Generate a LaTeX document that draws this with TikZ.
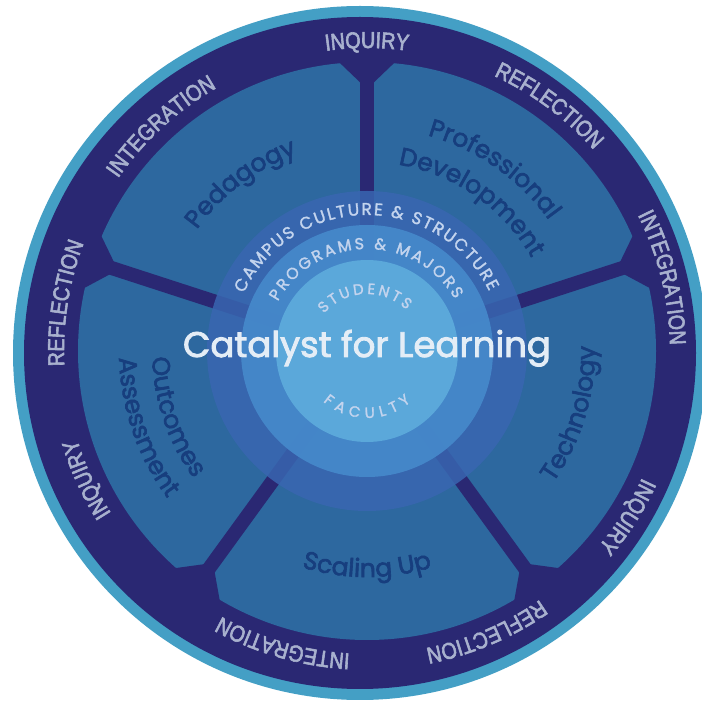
\documentclass[tikz,border=0pt]{standalone}
\usepackage{fontspec}
\usetikzlibrary{decorations.text}
\newfontfamily\wordfont[FakeStretch=0.86, FakeBold=2.5]{Liberation Sans}
\newfontfamily\labfont[FakeBold=2.5]{Poppins}
\newfontfamily\ringfont[FakeBold=1.6]{Poppins}
\definecolor{cLight}{HTML}{449FC5}
\definecolor{cNavy}{HTML}{2A2873}
\definecolor{cSeg}{HTML}{2D689F}
\definecolor{cCampus}{HTML}{3966B1}
\definecolor{cProg}{HTML}{4689CB}
\definecolor{cCenter}{HTML}{5BA8DA}
\definecolor{cWord}{HTML}{A8B1CE}
\definecolor{cLab}{HTML}{173E7E}
\definecolor{cInner}{HTML}{C3D4EE}
\definecolor{cTitle}{HTML}{E4EDF6}
\tikzset{
  outerword/.style={decorate, decoration={text along path, text align=center, text color=cWord,
      text={|\wordfont\fontsize{23}{23}\selectfont|#1}}},
  seglabel/.style={decorate, decoration={text along path, text align=center, text color=cLab,
      text={|\labfont\fontsize{25}{25}\selectfont|#1}}},
  ringtext/.style 2 args={decorate, decoration={text along path, text align=fit to path, text color=cInner,
      text={|\ringfont\fontsize{#1}{#1}\selectfont|#2}}},
  spoke/.style={cNavy, line width=14pt},
  titletext/.style={text=cTitle, font=\labfont\fontsize{35.5}{35.5}\selectfont, inner sep=0pt, anchor=base},
}
\begin{document}
\begin{tikzpicture}[x=1pt,y=1pt]
\useasboundingbox (0,0) rectangle (702,702);
\coordinate (O) at (360,349);
\coordinate (C) at (367,351);
% outer rings
\fill[cLight] (O) circle (347);
\fill[cNavy] (O) circle (336);
% segment field
\fill[cSeg] (C) circle (289);
% spokes with chamfered junctions
\foreach \a in {90,162,234,306,18} {
  \draw[spoke] (C) -- ([shift={(\a:280)}]C);
  \fill[cNavy] ([shift={(\a:262)}]C) -- ([shift={(\a+5.5:290)}]C) -- ([shift={(\a+5:305)}]C)
     -- ([shift={(\a-5:305)}]C) -- ([shift={(\a-5.5:290)}]C) -- cycle;
}
% inner rings
\fill[cCampus, opacity=0.85] (C) circle (160);
\fill[cProg, opacity=0.93] (C) circle (126);
\fill[cCenter] (C) circle (91);
% outer words (clockwise, tops outward)
\path[outerword=INQUIRY] ([shift={(115:303)}]C) arc[start angle=115, end angle=65, radius=303];
\path[outerword=REFLECTION] ([shift={(78.4:303)}]C) arc[start angle=78.4, end angle=28.4, radius=303];
\path[outerword=INTEGRATION] ([shift={(38.9:303)}]C) arc[start angle=38.9, end angle=-11.1, radius=303];
\path[outerword=INQUIRY] ([shift={(-7.5:303)}]C) arc[start angle=-7.5, end angle=-57.5, radius=303];
\path[outerword=REFLECTION] ([shift={(-42:303)}]C) arc[start angle=-42, end angle=-92, radius=303];
\path[outerword=INTEGRATION] ([shift={(279:303)}]C) arc[start angle=279, end angle=229, radius=303];
\path[outerword=INQUIRY] ([shift={(229.6:303)}]C) arc[start angle=229.6, end angle=179.6, radius=303];
\path[outerword=REFLECTION] ([shift={(196:303)}]C) arc[start angle=196, end angle=146, radius=303];
\path[outerword=INTEGRATION] ([shift={(157.5:303)}]C) arc[start angle=157.5, end angle=107.5, radius=303];
% segment labels
\path[seglabel=Pedagogy] ([shift={(157:209)}]C) arc[start angle=157, end angle=97, radius=209];
\path[seglabel=Professional] ([shift={(85:224)}]C) arc[start angle=85, end angle=25, radius=224];
\path[seglabel=Development] ([shift={(85:189)}]C) arc[start angle=85, end angle=25, radius=189];
\path[seglabel=Technology] ([shift={(313:228)}]C) arc[start angle=313, end angle=373, radius=228];
\path[seglabel={Scaling Up}] ([shift={(240:226)}]C) arc[start angle=240, end angle=300, radius=226];
\path[seglabel=Outcomes] ([shift={(169:215)}]C) arc[start angle=169, end angle=229, radius=215];
\path[seglabel=Assessment] ([shift={(169:248)}]C) arc[start angle=169, end angle=229, radius=248];
% inner ring texts
\path[ringtext={17}{CAMPUS CULTURE {\&} STRUCTURE}] ([shift={(155:136)}]C) arc[start angle=155, end angle=26, radius=136];
\path[ringtext={16}{PROGRAMS {\&} MAJORS}] ([shift={(151:102)}]C) arc[start angle=151, end angle=30.5, radius=102];
\path[ringtext={15}{STUDENTS}] ([shift={(139:57)}]C) arc[start angle=139, end angle=46, radius=57];
\path[ringtext={15}{FACULTY}] ([shift={(229:67)}]C) arc[start angle=229, end angle=311, radius=67];
% title
\node[titletext] (title) at (367,345) {Catalyst for Learning};
\end{tikzpicture}
\end{document}
